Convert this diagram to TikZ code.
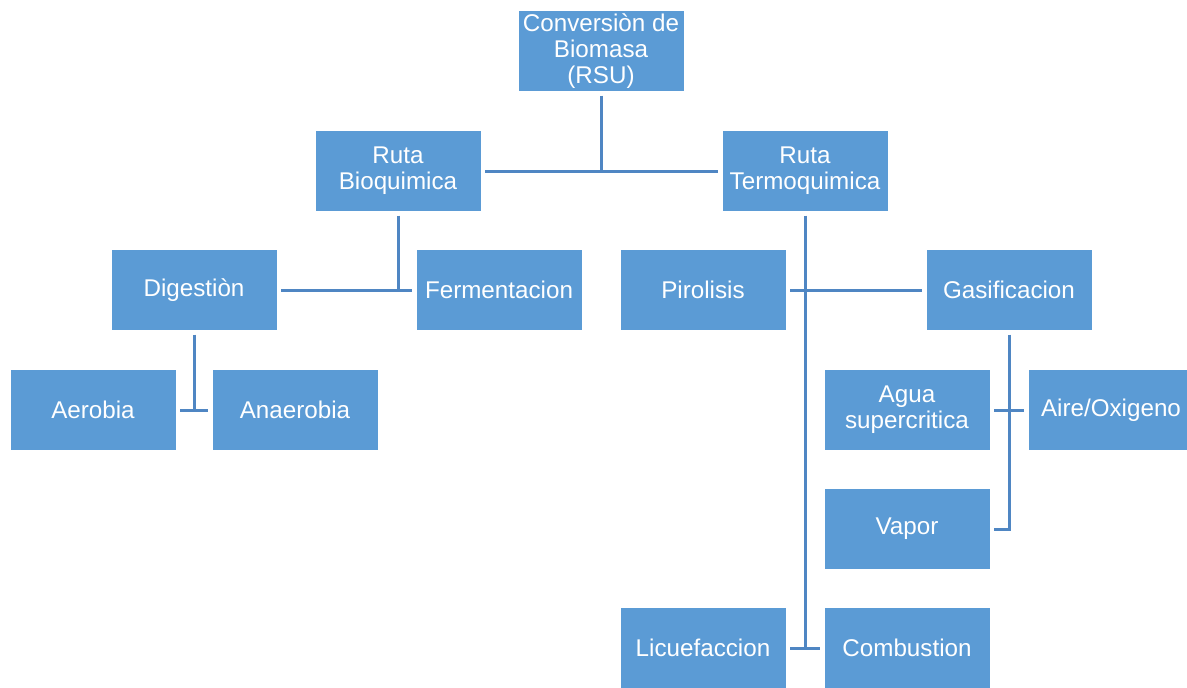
\documentclass[tikz,border=0pt]{standalone}
\usepackage{fontspec}
\setmainfont{Liberation Sans}
\definecolor{boxblue}{HTML}{5B9BD5}
\definecolor{lineblue}{HTML}{4F86C3}
\tikzset{>=stealth}
\tikzset{stage/.style={fill=boxblue, draw=white, line width=0.8pt, minimum width=166pt, minimum height=81pt, inner sep=1pt, outer sep=4pt, align=center, text=white, font=\fontsize{24.2}{25.8}\selectfont},
  link/.style={draw=lineblue, line width=3pt}}

\begin{document}
\begin{tikzpicture}[x=1pt,y=-1pt]
    \useasboundingbox (0,0) rectangle (1187,688);
    \node[stage] (root) at (601,51) {Conversiòn de\\Biomasa\\(RSU)};
    \node[stage] (bio) at (398,171) {Ruta\\Bioquimica};
    \node[stage] (termo) at (805,171) {Ruta\\Termoquimica};
    \node[stage] (dig) at (194,290) {Digestiòn};
    \node[stage] (ferm) at (499,290) {Fermentacion};
    \node[stage] (aer) at (93,410) {Aerobia};
    \node[stage] (anaer) at (295,410) {Anaerobia};
    \node[stage] (pir) at (703,290) {Pirolisis};
    \node[stage] (gas) at (1009,290) {Gasificacion};
    \node[stage] (agua) at (907,410) {Agua\\supercritica};
    \node[stage] (aire) at (1111,410) {Aire/Oxigeno};
    \node[stage] (vapor) at (907,529) {Vapor};
    \node[stage] (licu) at (703,648) {Licuefaccion};
    \node[stage] (comb) at (907,648) {Combustion};
    \draw[link] (root.south) -- (root.south |- bio.east);
    \draw[link] (bio.east) -- (termo.west);
    \draw[link] (bio.south) -- (bio.south |- ferm.west);
    \draw[link] (dig.east) -- (ferm.west);
    \draw[link] (dig.south) -- (dig.south |- aer.east);
    \draw[link] (aer.east) -- (anaer.west);
    \draw[link] (termo.south) -- (termo.south |- licu.east);
    \draw[link] (pir.east) -- (gas.west);
    \draw[link] (licu.east) -- (comb.west);
    \draw[link] (gas.south) -- (gas.south |- vapor.east) -- (vapor.east);
    \draw[link] (agua.east) -- (aire.west);
\end{tikzpicture}
\end{document}
